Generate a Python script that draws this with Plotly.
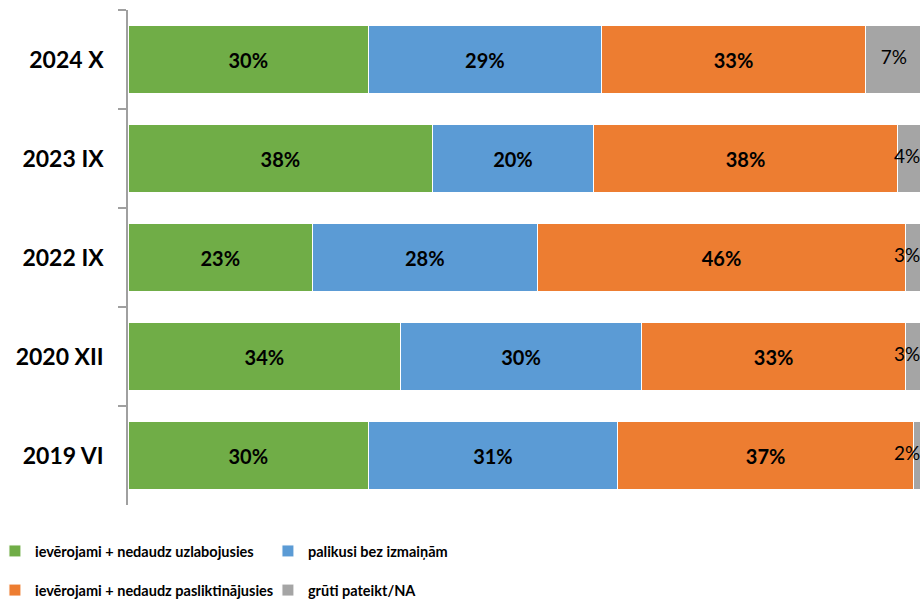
import plotly.graph_objects as go

# survey waves, top to bottom
waves = ['2024 X', '2023 IX', '2022 IX', '2020 XII', '2019 VI']

improved = [30, 38, 23, 34, 30]
unchanged = [29, 20, 28, 30, 31]
worsened = [33, 38, 46, 33, 37]
hard_to_say = [7, 4, 3, 3, 2]

series_names = [
    'ievērojami + nedaudz uzlabojusies',
    'palikusi bez izmaiņām',
    'ievērojami + nedaudz pasliktinājusies',
    'grūti pateikt/NA',
]
colors = ['#70ad47', '#5b9bd5', '#ed7d31', '#a5a5a5']

X_MAX = 98.75  # the original picture is cut off at the right edge

fig = go.Figure()

series = [improved, unchanged, worsened, hard_to_say]
legends = ['legend', 'legend', 'legend2', 'legend2']
for i, vals in enumerate(series):
    is_gray = i == 3
    fig.add_trace(go.Bar(
        y=waves, x=vals, orientation='h', name=series_names[i],
        marker=dict(color=colors[i], line=dict(color='white', width=1)),
        text=None if is_gray else [f'{v}%' for v in vals],
        textposition='inside', insidetextanchor='middle',
        textfont=dict(family='Lato', size=20, color='black', weight='bold'),
        texttemplate=None if is_gray else '%{text}',
        legend=legends[i],
        hoverinfo='skip',
    ))

# gray labels sit at the centre of their segment, pulled back inside the cut edge
gray_x = []
for g, b, o, v in zip(improved, unchanged, worsened, hard_to_say):
    gray_x.append(min(g + b + o + v / 2, X_MAX - 1.6))
fig.add_trace(go.Scatter(
    y=waves, x=gray_x, mode='text',
    text=[f'{v}%' for v in hard_to_say],
    textfont=dict(family='Lato', size=19, color='black'),
    showlegend=False, cliponaxis=False, hoverinfo='skip',
))

legend_font = dict(family='Lato', size=14.5, color='black', weight='bold')

fig.update_layout(
    width=920, height=602,
    barmode='stack', bargap=0.31,
    plot_bgcolor='white', paper_bgcolor='white',
    margin=dict(l=128, r=0, t=10, b=97, autoexpand=False),
    showlegend=True,
    legend=dict(orientation='h', x=-0.168, xanchor='left', y=-0.093,
                yanchor='middle', font=legend_font, entrywidth=228,
                itemclick=False, traceorder='normal'),
    legend2=dict(orientation='h', x=-0.168, xanchor='left', y=-0.172,
                 yanchor='middle', font=legend_font, entrywidth=228,
                 itemclick=False, traceorder='normal'),
)
fig.update_xaxes(range=[0, X_MAX], visible=False, showgrid=False)
fig.update_yaxes(
    autorange='reversed', automargin=False,
    showline=True, linecolor='#a0a0a0', linewidth=1.5,
    ticks='outside', ticklen=8, tickcolor='#a0a0a0', tickwidth=1.5,
    tickson='boundaries', ticklabelstandoff=18,
    tickfont=dict(family='Lato', size=23, color='black', weight='bold'),
    showgrid=False,
)

# the page's default body margin would push the 920x602 figure out of the window
fig.write_html('out.html', config={'displayModeBar': False},
               post_script="document.body.style.margin = '0';")
